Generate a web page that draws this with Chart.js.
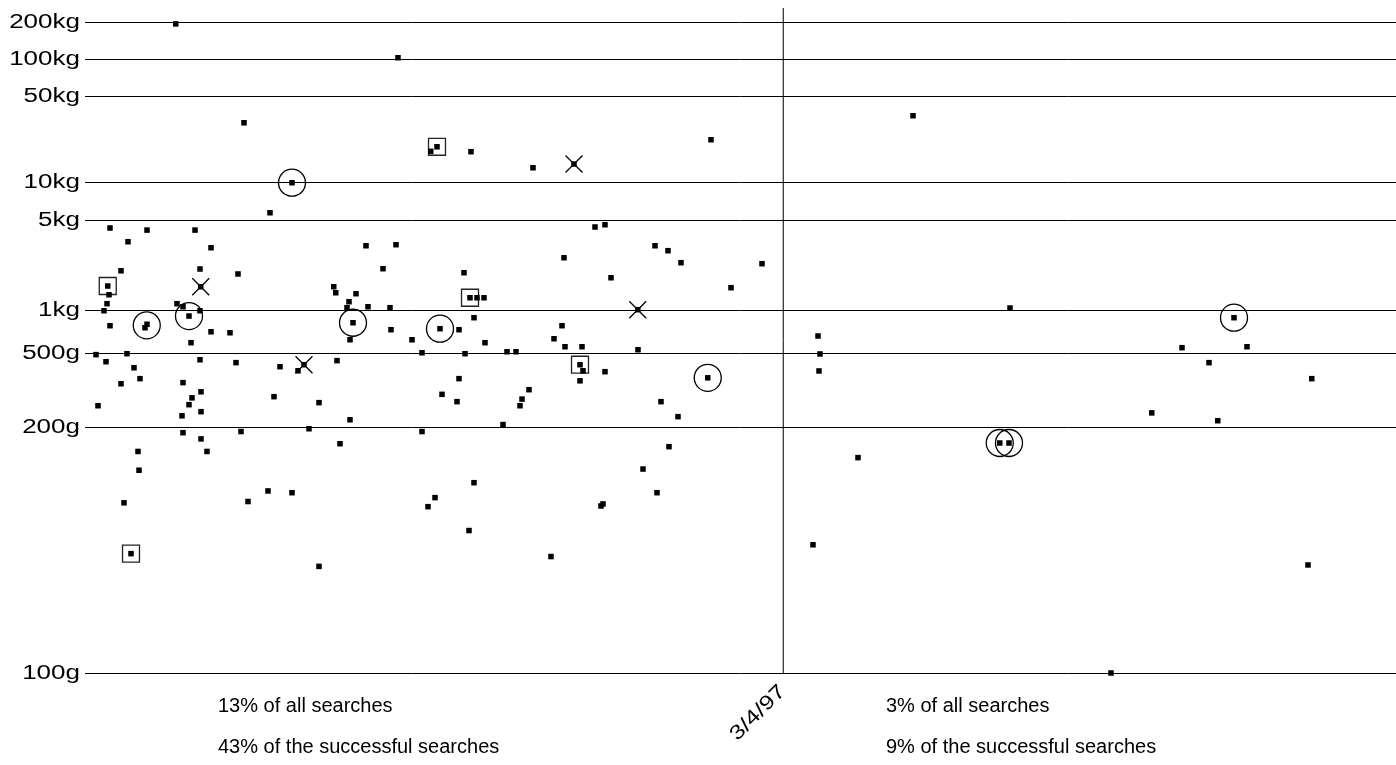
<!DOCTYPE html>
<html><head><meta charset="utf-8">
<script src="https://cdn.jsdelivr.net/npm/chart.js@4/dist/chart.umd.min.js"></script>
<style>html,body{margin:0;padding:0;background:#fff;overflow:hidden}</style>
</head><body>
<canvas id="c" width="1396" height="765" style="display:block;width:1396px;height:765px"></canvas>
<script>
// ---- data (x = day index, y = weight in grams) ----
const searchDay = [36.3,63.6,82.8,74,10,24.8,44,17.2,50.4,14.4,46,61.2,9.1,9.6,46.3,99.5,100.3,8.8,7.6,36.8,
  39.2,46,41.6,24,24.8,10,50.4,58,42.4,4.4,16.8,8.4,46,60.4,78,87.6,85.2,100.8,19.6,22,
  14.4,39.2,46.4,42.8,75.6,41.6,46.4,38.8,5.2,93.6,39.2,62.4,89.6,102,46.4,21.2,48.8,21.6,73.2,82.8,
  65.2,15.6,18.4,93.6,125.2,140.8,138.3,154.4,179.2,195.6,204,112.4,124.4,191.6,119.2,151.6,108.4,105.6,104.8,113.2,
  122,154,156.8,159.6,107.2,106,122.4,130.8,142,149.6,155.6,160,134.8,152,168.8,172.4,190.8,187.6,192,198.8,
  198,199.2,198,149.6,177.6,142.8,174.8,148.8,174,106,167.2,134.8,155.6,140,137.2,153.6,186.4,250.4,208,228,
  233.2,238.4,270.8,210.4,258.4,221.1,221.2,208,249.1,230.4,237.2,233.6,223.2,228.8,206.4,207.2,
  331.2,370,293.2,294,293.6,365.9,369.6,309.2,291.2,459.6,438.8,464.8,449.6,490.7,426.7,453.1,489.2,410.4];
const searchWeightG = [196000,30700,10030,5750,4345,4180,4180,3380,3030,2000,2065,1890,1528,1312,1508,1508,1358,1124,997,1124,
  1067,997,912,752,796,777,704,693,592,493,500,444,457,438,413,425,390,451,407,350,
  327,332,295,274,278,253,234,224,250,259,190,192,197,173,180,163,163,144,129.5,128.5,
  124,123.4,108.4,106.4,103850,19600,18000,17880,13250,14200,4425,3141,3200,2529,2076,1932,1335,1163,1050,1067,
  1050,1245,1245,1245,816,620,728,620,740,728,887,592,507,500,515,515,777,630,556,556,
  425,390,340,350,303,286,270,262,250,215,205,192,134.6,125.9,121.7,113.5,107.9,22350,4614,3141,
  2872,2312,2271,1767,1483,1015,531,385,354,262,222,169,145,128.5,122,122.9,
  35020,1044,658,498,389,174,174,156,110.1,887,548,556,438,350,231,213,106.6,100];

const circleDay = [82.8,24.7,41.6,107.2,142,249.1,365.9,369.6,459.6];
const circleWeightG = [10030,782,912,816,740,354,174,174,887];
const squareDay = [9.1,18.4,140.8,154,198];
const squareWeightG = [1528,108.4,19600,1245,425];
const crossDay = [46.3,87.6,195.6,221.1];
const crossWeightG = [1508,425,14200,1015];

const tickGrams = [100,200,500,1000,5000,10000,50000,100000,200000];
const tickLabels = ['100g','200g','500g','1kg','5kg','10kg','50kg','100kg','200kg'];

const markerDay = 279.3;
const markerLabel = '3/4/97';
const leftNotes = ['13% of all searches','43% of the successful searches'];
const rightNotes = ['3% of all searches','9% of the successful searches'];

const dayMin = 0, dayMax = 524.4;
const weightMinG = 100, weightMaxG = 264000;

// axis transform used by the chart: log10(weight - 99 g)
const tw = g => Math.log10(g - 99);
const pts = (xs, ys) => xs.map((x, i) => ({x: x, y: tw(ys[i])}));

const FONT = '"Liberation Sans", Arial, Helvetica, sans-serif';

const textPlugin = {
  id: 'texts',
  afterDraw(chart) {
    const ctx = chart.ctx, ys = chart.scales.y, area = chart.chartArea;
    ctx.save();
    ctx.fillStyle = '#000';
    ctx.font = '20px ' + FONT;
    ctx.textAlign = 'right';
    ctx.textBaseline = 'middle';
    tickGrams.forEach((g, i) => {
      const y = ys.getPixelForValue(tw(g));
      ctx.save();
      ctx.translate(area.left - 5, y);
      ctx.scale(1.3, 1);
      ctx.fillText(tickLabels[i], 0, 0);
      ctx.restore();
    });
    ctx.textAlign = 'left';
    ctx.textBaseline = 'alphabetic';
    leftNotes.forEach((t, i) => ctx.fillText(t, 218, 712 + i * 41));
    rightNotes.forEach((t, i) => ctx.fillText(t, 886, 712 + i * 41));
    ctx.save();
    ctx.translate(758, 713);
    ctx.rotate(-Math.PI / 4);
    ctx.scale(1.25, 1);
    ctx.textAlign = 'center';
    ctx.textBaseline = 'middle';
    ctx.fillText(markerLabel, 0, 0);
    ctx.restore();
    ctx.restore();
  }
};

new Chart(document.getElementById('c'), {
  type: 'scatter',
  data: {
    datasets: [
      {
        type: 'line', data: [{x: markerDay, y: tw(weightMinG)}, {x: markerDay, y: tw(weightMaxG)}],
        borderColor: '#000', borderWidth: 1, pointRadius: 0, showLine: true, fill: false, clip: false
      },
      {
        data: pts(searchDay, searchWeightG), pointStyle: 'rect', pointRadius: 3.9,
        backgroundColor: '#000', borderWidth: 0, clip: false
      },
      {
        data: pts(circleDay, circleWeightG), pointStyle: 'circle', pointRadius: 13.5,
        backgroundColor: 'rgba(0,0,0,0)', borderColor: '#000', borderWidth: 1.3, clip: false
      },
      {
        data: pts(squareDay, squareWeightG), pointStyle: 'rect', pointRadius: 12,
        backgroundColor: 'rgba(0,0,0,0)', borderColor: '#222', borderWidth: 1.3, clip: false
      },
      {
        data: pts(crossDay, crossWeightG), pointStyle: 'crossRot', pointRadius: 12,
        backgroundColor: 'rgba(0,0,0,0)', borderColor: '#000', borderWidth: 1.3, clip: false
      }
    ]
  },
  options: {
    responsive: false,
    animation: false,
    events: [],
    layout: {autoPadding: false, padding: {top: 8, bottom: 92, left: 0, right: 0}},
    plugins: {legend: {display: false}, tooltip: {enabled: false}},
    scales: {
      x: {
        type: 'linear', min: dayMin, max: dayMax, display: false
      },
      y: {
        type: 'linear', min: tw(weightMinG), max: tw(weightMaxG),
        afterBuildTicks: s => { s.ticks = tickGrams.map(g => ({value: tw(g)})); },
        afterFit: s => { s.width = 85; },
        ticks: {display: false},
        border: {display: false},
        grid: {color: '#000', lineWidth: 1, drawTicks: false}
      }
    }
  },
  plugins: [textPlugin]
});
</script>
</body></html>
